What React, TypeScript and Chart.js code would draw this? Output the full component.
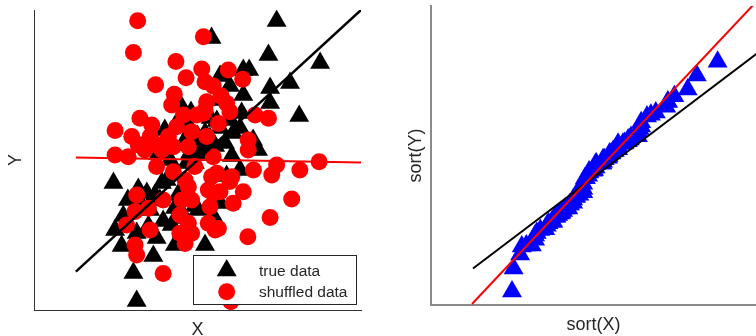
import React, { useEffect, useRef } from "react";
import { Chart, registerables } from "chart.js";

Chart.register(...registerables);

// ---- Left panel: true data (black triangles) ----
const trueX = [
  74.2, 54.3, 71.7, 87.5, 64.0, 65.8, 56.9, 78.3, 72.2, 59.9,
  72.2, 81.1, 63.5, 67.0, 68.5, 60.5, 55.9, 60.9, 52.8, 56.9,
  63.0, 53.8, 58.4, 24.3, 31.9, 34.5, 37.0, 39.1, 49.2, 55.4,
  27.3, 24.8, 31.4, 35.0, 39.5, 37.5, 26.8, 36.5, 30.4, 31.4,
  52.3, 49.2, 46.2, 50.2, 42.1, 58.9, 63.0, 46.7, 40.6, 54.8,
  38.5, 40.0, 44.0, 48.0, 47.7, 50.0, 52.0, 52.3, 47.0, 43.1,
  46.2, 42.0, 56.9, 52.0, 44.0, 45.0, 54.0, 49.5, 41.6, 35.5,
  33.0, 28.7, 64.0, 56.0, 46.2, 60.0, 50.0, 38.0, 43.1, 48.0,
];
const trueY = [
  96.3, 90.7, 85.0, 82.3, 80.0, 80.0, 78.0, 75.7, 74.0, 74.7,
  69.0, 64.7, 65.7, 56.7, 53.3, 51.3, 63.0, 59.0, 64.7, 60.7,
  60.7, 57.3, 55.7, 42.3, 40.3, 39.0, 38.3, 42.3, 49.0, 54.7,
  31.3, 26.7, 25.7, 28.0, 29.7, 24.0, 21.3, 18.0, 12.3, 3.0,
  21.7, 34.7, 41.3, 33.3, 28.3, 44.7, 46.7, 49.0, 43.3, 31.3,
  36.7, 60.0, 63.0, 66.0, 52.3, 58.0, 52.3, 59.0, 62.0, 34.0,
  30.7, 55.0, 35.7, 55.0, 38.3, 68.0, 64.0, 55.0, 50.0, 33.3,
  35.0, 36.7, 71.7, 70.0, 56.7, 63.3, 51.7, 52.0, 21.7, 60.0,
];

// ---- Left panel: shuffled data (red circles) ----
const shuffledX = [
  31.7, 30.4, 51.8, 43.4, 37.2, 46.5, 42.9, 51.3, 52.3, 54.8,
  59.4, 42.1, 63.8, 58.9, 59.9, 67.6, 71.7, 51.8, 24.8, 32.4,
  36.0, 29.9, 31.9, 35.5, 38.0, 45.7, 49.8, 43.6, 48.2, 52.8,
  41.1, 24.8, 28.8, 33.9, 39.1, 42.6, 47.2, 37.5, 42.6, 46.2,
  49.2, 54.8, 54.3, 31.4, 39.5, 45.2, 52.3, 56.4, 53.3, 65.5,
  65.5, 67.1, 74.2, 72.7, 81.3, 87.2, 60.5, 64.0, 78.8, 55.9,
  60.9, 30.9, 35.0, 28.3, 35.5, 44.6, 47.2, 44.6, 46.2, 30.9,
  31.4, 39.5, 48.2, 53.3, 55.4, 47.2, 72.2, 65.4, 56.4, 53.8,
  56.9, 60.2, 48.2, 59.9, 54.8, 52.8, 57.2,
];
const shuffledY = [
  96.4, 85.8, 91.1, 82.8, 75.1, 77.4, 71.9, 80.3, 76.1, 74.7,
  80.0, 68.3, 76.9, 68.9, 66.1, 65.0, 63.9, 65.6, 59.8, 63.9,
  61.7, 57.8, 55.0, 57.8, 55.0, 65.0, 65.0, 61.1, 59.4, 57.8,
  57.8, 51.7, 51.1, 53.3, 53.3, 54.4, 54.4, 47.8, 46.1, 43.3,
  47.8, 51.1, 44.4, 38.3, 36.7, 36.7, 66.7, 62.2, 40.0, 56.7,
  53.3, 46.7, 48.3, 45.0, 46.7, 49.4, 44.4, 39.4, 37.0, 45.6,
  35.6, 32.8, 33.9, 28.3, 26.7, 31.7, 28.9, 25.6, 22.2, 21.7,
  18.3, 12.2, 36.7, 28.9, 26.7, 41.1, 30.8, 24.4, 27.2, 34.4,
  39.4, 2.8, 25.6, 42.8, 38.9, 69.4, 71.3,
];

// ---- Fitted lines ----
const trueFitX = [12.8, 100];
const trueFitY = [12.8, 100];
const shuffledFitX = [12.8, 100];
const shuffledFitY = [50.8, 49.2];

// ---- Right panel: Q-Q plot lines ----
const qqIdentityX = [12.3, 100];
const qqIdentityY = [12.3, 100];
const qqFitX = [12.0, 100];
const qqFitY = [-2.1, 121.5];

const legendLabels = ["true data", "shuffled data"];
const leftTitles = { x: "X", y: "Y" };
const rightTitles = { x: "sort(X)", y: "sort(Y)" };

const FONT = "'Liberation Sans', Arial, Helvetica, sans-serif";
const TEXT = "#262626";

const pts = (xs: number[], ys: number[]) => xs.map((x, i) => ({ x, y: ys[i] }));

const boxLegend = {
  id: "boxLegend",
  afterDraw(chart: any) {
    const { ctx, chartArea } = chart;
    const w = 163.4;
    const h = 49.3;
    const x0 = chartArea.right - 4.3 - w;
    const y0 = chartArea.bottom - 5.7 - h;
    ctx.save();
    ctx.fillStyle = "#ffffff";
    ctx.fillRect(x0, y0, w, h);
    ctx.strokeStyle = TEXT;
    ctx.lineWidth = 1;
    ctx.strokeRect(Math.round(x0) + 0.5, Math.round(y0) + 0.5, Math.round(w), Math.round(h));
    const mx = x0 + 33.4;
    const ds = chart.data.datasets;
    const r = 11.5;
    let cy = y0 + 15.4;
    ctx.fillStyle = ds[0].backgroundColor;
    ctx.beginPath();
    ctx.moveTo(mx, cy - r);
    ctx.lineTo(mx + Math.sin((2 * Math.PI) / 3) * r, cy + r / 2);
    ctx.lineTo(mx - Math.sin((2 * Math.PI) / 3) * r, cy + r / 2);
    ctx.closePath();
    ctx.fill();
    cy = y0 + 36.7;
    ctx.fillStyle = ds[1].backgroundColor;
    ctx.beginPath();
    ctx.arc(mx, cy, 8.5, 0, Math.PI * 2);
    ctx.fill();
    ctx.fillStyle = TEXT;
    ctx.font = `15.5px ${FONT}`;
    ctx.textBaseline = "alphabetic";
    ctx.textAlign = "left";
    ctx.fillText(legendLabels[0], x0 + 65.7, y0 + 21);
    ctx.fillText(legendLabels[1], x0 + 65.7, y0 + 41.7);
    ctx.restore();
  },
};

function axis(min: number, max: number, title: string, pad: any, borderColor: string, borderWidth: number) {
  return {
    type: "linear",
    min,
    max,
    ticks: { display: false },
    grid: { display: false, drawTicks: false },
    border: { display: true, color: borderColor, width: borderWidth },
    title: {
      display: true,
      text: title,
      color: TEXT,
      font: { family: FONT, size: 18, lineHeight: 1.2 },
      padding: pad,
    },
  };
}

export default function App() {
  const leftRef = useRef<HTMLCanvasElement>(null);
  const rightRef = useRef<HTMLCanvasElement>(null);

  useEffect(() => {
    const left = new Chart(leftRef.current as HTMLCanvasElement, {
      type: "scatter",
      data: {
        datasets: [
          {
            label: legendLabels[0],
            data: pts(trueX, trueY),
            pointStyle: "triangle",
            pointRadius: 11.5,
            backgroundColor: "#000000",
            borderWidth: 0,
            order: 4,
          },
          {
            label: legendLabels[1],
            data: pts(shuffledX, shuffledY),
            pointStyle: "circle",
            pointRadius: 8.5,
            backgroundColor: "#ff0000",
            borderWidth: 0,
            order: 3,
          },
          {
            label: "true fit",
            data: pts(trueFitX, trueFitY),
            showLine: true,
            pointRadius: 0,
            borderColor: "#000000",
            borderWidth: 2.5,
            order: 2,
          },
          {
            label: "shuffled fit",
            data: pts(shuffledFitX, shuffledFitY),
            showLine: true,
            pointRadius: 0,
            borderColor: "#ff0000",
            borderWidth: 2,
            order: 1,
          },
        ],
      } as any,
      options: {
        responsive: false,
        animation: false,
        events: [],
        layout: { autoPadding: false, padding: { left: 0, top: 10, right: 17, bottom: 0 } },
        plugins: { legend: { display: false }, tooltip: { enabled: false } },
        scales: {
          x: axis(0, 100, leftTitles.x, { top: 9.2, bottom: -4.8 }, "#333333", 1),
          y: axis(0, 100, leftTitles.y, { top: 5.7, bottom: 6.7 }, "#333333", 1),
        } as any,
      },
      plugins: [boxLegend],
    });

    const sortedX = [...trueX].sort((a, b) => a - b);
    const sortedY = [...trueY].sort((a, b) => a - b);

    const right = new Chart(rightRef.current as HTMLCanvasElement, {
      type: "scatter",
      data: {
        datasets: [
          {
            label: "quantiles",
            data: pts(sortedX, sortedY),
            pointStyle: "triangle",
            pointRadius: 11.5,
            backgroundColor: "#0000ff",
            borderWidth: 0,
            order: 3,
          },
          {
            label: "identity",
            data: pts(qqIdentityX, qqIdentityY),
            showLine: true,
            pointRadius: 0,
            borderColor: "#000000",
            borderWidth: 2,
            order: 2,
          },
          {
            label: "fit",
            data: pts(qqFitX, qqFitY),
            showLine: true,
            pointRadius: 0,
            borderColor: "#ff0000",
            borderWidth: 2,
            order: 1,
          },
        ],
      } as any,
      options: {
        responsive: false,
        animation: false,
        events: [],
        layout: { autoPadding: false, padding: { left: 0, top: 6, right: 0, bottom: 0 } },
        plugins: { legend: { display: false }, tooltip: { enabled: false } },
        scales: {
          x: axis(-0.6, 99.3, rightTitles.x, { top: 9.7, bottom: -0.3 }, "#8a8a8a", 2),
          y: axis(-2.5, 118.9, rightTitles.y, { top: 27.5, bottom: 3.9 }, "#8a8a8a", 2),
        } as any,
      },
    });

    return () => {
      left.destroy();
      right.destroy();
    };
  }, []);

  return (
    <div
      style={{
        position: "absolute",
        left: 0,
        top: 0,
        width: 756,
        height: 336,
        overflow: "hidden",
        background: "#ffffff",
      }}
    >
      <canvas ref={leftRef} width={378} height={336} style={{ position: "absolute", left: 0, top: 0 }} />
      <canvas ref={rightRef} width={378} height={336} style={{ position: "absolute", left: 378, top: 0 }} />
    </div>
  );
}
